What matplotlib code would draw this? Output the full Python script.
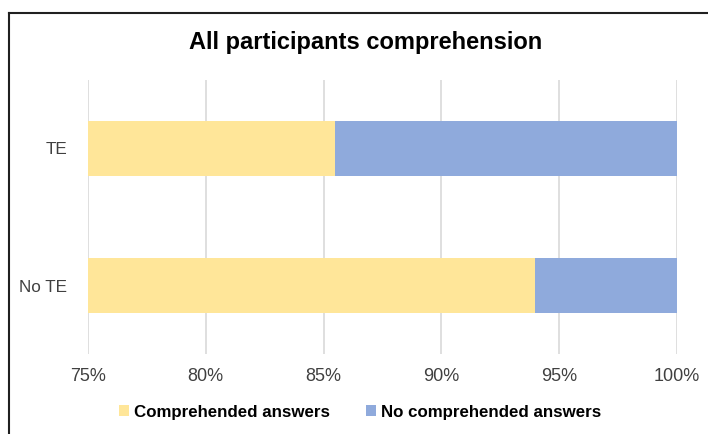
import matplotlib
matplotlib.use('Agg')
import matplotlib.pyplot as plt
from matplotlib.lines import Line2D
from matplotlib.patches import Patch

plt.rcParams['font.family'] = ['Liberation Sans', 'DejaVu Sans']

# Data
categories = ['No TE', 'TE']
comprehended = [93.97, 85.48]
not_comprehended = [100 - v for v in comprehended]
xticks = [75, 80, 85, 90, 95, 100]
xtick_labels = ['75%', '80%', '85%', '90%', '95%', '100%']

yellow = '#FFE699'
blue = '#8FAADC'

fig = plt.figure(figsize=(7.08, 4.34), dpi=100)
ax = fig.add_axes([88 / 708, 1 - 354 / 434, (677 - 88) / 708, (354 - 80) / 434])

ypos = range(len(categories))
ax.barh(ypos, [c - 75 for c in comprehended], left=75, height=0.4, color=yellow, zorder=2)
ax.barh(ypos, not_comprehended, left=comprehended, height=0.4, color=blue, zorder=2)

ax.set_xlim(75, 100)
ax.set_ylim(-0.5, 1.5)
ax.set_xticks(xticks)
ax.set_xticklabels(xtick_labels)
ax.set_yticks(list(ypos))
ax.set_yticklabels(categories)
ax.tick_params(axis='both', length=0, labelcolor='#404040')
ax.tick_params(axis='x', pad=10, labelsize=13)
ax.tick_params(axis='y', pad=15, labelsize=12.3)
ax.grid(axis='x', color='#D9D9D9', linewidth=1.2, zorder=0)
for s in ax.spines.values():
    s.set_visible(False)

fig.text(366 / 708, 1 - 43 / 434, 'All participants comprehension', ha='center', va='center',
         fontsize=17, fontweight='bold', color='black')

handles = [Patch(facecolor=yellow), Patch(facecolor=blue)]
fig.legend(handles, ['Comprehended answers', 'No comprehended answers'],
           loc='center', bbox_to_anchor=(360 / 708, 1 - 412 / 434), ncol=2,
           frameon=False, prop={'weight': 'bold', 'size': 12.2},
           handlelength=0.6, handleheight=0.6, handletextpad=0.3, columnspacing=2.1)

# frame edge visible at top and left
fig.add_artist(Line2D([9 / 708, 1], [1 - 13 / 434, 1 - 13 / 434], color='#202020', linewidth=1.5))
fig.add_artist(Line2D([9 / 708, 9 / 708], [0, 1 - 13 / 434], color='#202020', linewidth=1.5))

fig.savefig('out.png', dpi=100)
